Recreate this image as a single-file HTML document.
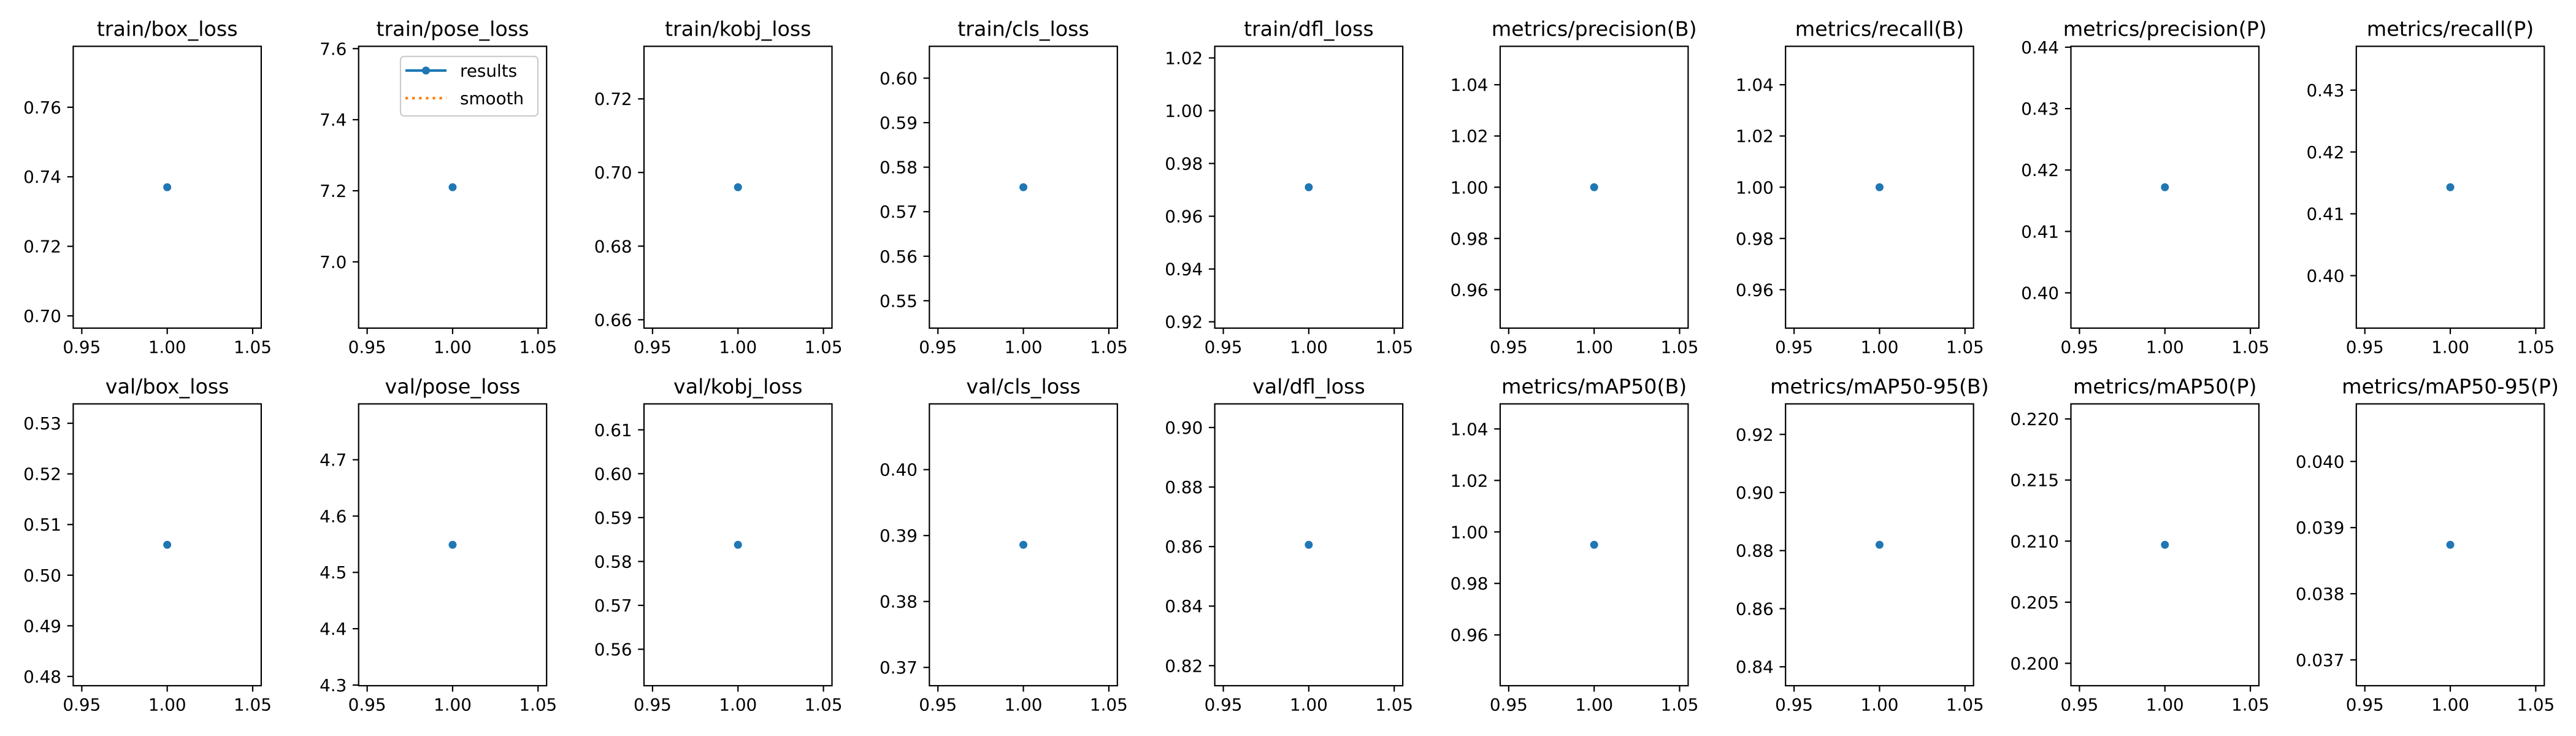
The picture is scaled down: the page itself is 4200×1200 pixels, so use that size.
<!DOCTYPE html>
<html><head><meta charset="utf-8"><style>
html,body{margin:0;padding:0;background:#fff;}
svg{display:block;font-family:"DejaVu Sans","Liberation Sans",sans-serif;}
</style></head><body>
<svg id="chart" width="4200" height="1200" viewBox="0 0 4200 1200"></svg>
<script>
const titles = ["train/box_loss","train/pose_loss","train/kobj_loss","train/cls_loss","train/dfl_loss","metrics/precision(B)","metrics/recall(B)","metrics/precision(P)","metrics/recall(P)",
"val/box_loss","val/pose_loss","val/kobj_loss","val/cls_loss","val/dfl_loss","metrics/mAP50(B)","metrics/mAP50-95(B)","metrics/mAP50(P)","metrics/mAP50-95(P)"];
const epochs = [1];
const values = [0.737,7.21,0.696,0.5755,0.971,1.0,1.0,0.4172,0.4143,
0.506,4.549,0.5838,0.3886,0.8606,0.995,0.882,0.2097,0.03874];
const xTicks = [0.95,1.00,1.05];
const xTickLabels = ["0.95","1.00","1.05"];

const NS="http://www.w3.org/2000/svg";
const svg=document.getElementById('chart');
function mk(tag,attrs,parent){const e=document.createElementNS(NS,tag);for(const k in attrs)e.setAttribute(k,attrs[k]);(parent||svg).appendChild(e);return e;}
const colLeft=119.4, colStep=465.3, panelW=306.5;
const rowTop=[75.5,658.5], panelH=459.5;
const tickLen=9.7, tickPad=9.7;

function niceTicks(lo,hi){
  const R=hi-lo;let best=null;
  for(let e=Math.floor(Math.log10(R))-2;e<=Math.floor(Math.log10(R))+1;e++){
    for(const m of [1,2,5]){const s=m*Math.pow(10,e);
      const a=Math.ceil(lo/s-1e-9),b=Math.floor(hi/s+1e-9);
      if(b-a+1<=6){ if(best===null||s<best)best=s; }
    }
  }
  const s=best,out=[];
  for(let k=Math.ceil(lo/s-1e-9);k<=Math.floor(hi/s+1e-9);k++)out.push(k*s);
  const dec=Math.max(0,-Math.floor(Math.log10(s)+1e-9));
  return {ticks:out,dec};
}

titles.forEach((t,i)=>{
  const r=Math.floor(i/9),c=i%9;
  const L=colLeft+c*colStep,T=rowTop[r],W=panelW,H=panelH;
  const g=mk('g',{});
  
  
  const v=values[i];
  const ylo=v-Math.abs(v)*0.055, yhi=v+Math.abs(v)*0.055;
  const xlo=epochs[0]-0.055, xhi=epochs[0]+0.055;
  const sx=x=>L+(x-xlo)/(xhi-xlo)*W;
  const sy=y=>T+H-(y-ylo)/(yhi-ylo)*H;
  // title
  const tt=mk('text',{x:L+W/2,y:T-17,'text-anchor':'middle','font-size':33.3,fill:'#000'},g);
  tt.textContent=t;
  
  
  // x ticks
  xTicks.forEach((xt,k)=>{
    const X=sx(xt);
    mk('line',{x1:X,x2:X,y1:T+H,y2:T+H+tickLen,stroke:'#000','stroke-width':2.2},g);
    const lb=mk('text',{x:X,y:T+H+tickLen+tickPad+21,'text-anchor':'middle','font-size':27.8,fill:'#000'},g);
    lb.textContent=xTickLabels[k];
    
    
  });
  // y ticks
  const yt=niceTicks(ylo,yhi);
  yt.ticks.forEach(y=>{
    const Y=sy(y);
    mk('line',{x1:L-tickLen,x2:L,y1:Y,y2:Y,stroke:'#000','stroke-width':2.2},g);
    const lb=mk('text',{x:L-tickLen-tickPad,y:Y+10,'text-anchor':'end','font-size':27.8,fill:'#000'},g);
    lb.textContent=y.toFixed(yt.dec);
    
    
  });
  // frame
  const fr=mk('rect',{x:L,y:T,width:W,height:H,fill:'none',stroke:'#000','stroke-width':2.2},g);
  
  
  // point
  const pt=mk('circle',{cx:sx(epochs[0]),cy:sy(v),r:6.5,fill:'#1f77b4'},g);
  
  
  // legend on panel 2
  if(i===1){
    const lg=mk('g',{},g);
    
    
    mk('rect',{x:653,y:92,width:224,height:97,rx:6,fill:'#fff','fill-opacity':0.8,stroke:'#cccccc','stroke-width':2.2},lg);
    mk('line',{x1:661,x2:728,y1:115,y2:115,stroke:'#1f77b4','stroke-width':4.2},lg);
    mk('circle',{cx:694.5,cy:115,r:6.5,fill:'#1f77b4'},lg);
    const t1=mk('text',{x:750,y:125,'font-size':27.8,fill:'#000'},lg);t1.textContent='results';
    
    
    mk('line',{x1:661,x2:728,y1:160,y2:160,stroke:'#ff7f0e','stroke-width':4.2,'stroke-dasharray':'4.2 6.9'},lg);
    const t2=mk('text',{x:750,y:170,'font-size':27.8,fill:'#000'},lg);t2.textContent='smooth';
    
    
  }
});
</script>
</body></html>
